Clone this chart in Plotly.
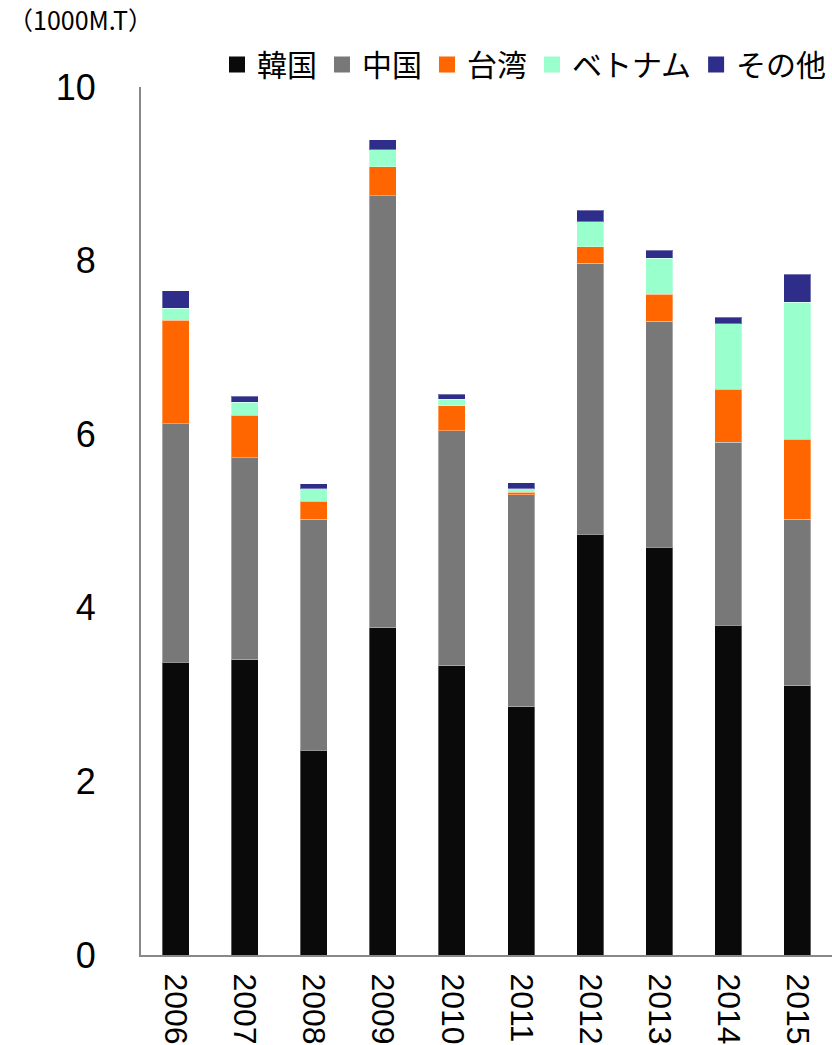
import plotly.graph_objects as go

# Import volumes by origin (unit: 1000 metric tons)
years = ["2006", "2007", "2008", "2009", "2010", "2011", "2012", "2013", "2014", "2015"]
korea = [3.37, 3.40, 2.36, 3.77, 3.33, 2.86, 4.85, 4.70, 3.80, 3.10]
china = [2.75, 2.33, 2.66, 4.98, 2.71, 2.44, 3.12, 2.60, 2.11, 1.92]
taiwan = [1.19, 0.49, 0.21, 0.33, 0.29, 0.03, 0.19, 0.31, 0.61, 0.92]
vietnam = [0.14, 0.15, 0.14, 0.20, 0.07, 0.04, 0.29, 0.42, 0.75, 1.58]
others = [0.20, 0.07, 0.06, 0.11, 0.06, 0.07, 0.13, 0.09, 0.08, 0.32]

series = [
    ("韓国", korea, "#0a0a0a"),
    ("中国", china, "#787878"),
    ("台湾", taiwan, "#ff6600"),
    ("ベトナム", vietnam, "#99ffcc"),
    ("その他", others, "#2e2d8a"),
]

fig = go.Figure()
for name, vals, color in series:
    fig.add_trace(go.Bar(
        x=years, y=vals, name=name, showlegend=False, legendgroup=name,
        marker=dict(color=color, line=dict(color="rgba(255,255,255,0.35)", width=1)),
    ))
# Legend keys: larger square swatches than the default bar swatch
for name, vals, color in series:
    fig.add_trace(go.Scatter(
        x=[None], y=[None], mode="markers", name=name, legendgroup=name,
        marker=dict(symbol="square", size=16, color=color),
        hoverinfo="skip",
    ))

fig.update_layout(
    barmode="stack",
    bargap=0.61,
    width=832, height=1045,
    margin=dict(l=141, r=0, t=87, b=90),
    plot_bgcolor="white", paper_bgcolor="white",
    font=dict(family="Liberation Sans, Arial, sans-serif", color="black"),
    legend=dict(
        orientation="h",
        x=1.0, xanchor="right",
        y=1.026, yanchor="middle",
        font=dict(family="Noto Sans CJK JP", size=30, color="black"),
        itemwidth=30,
        tracegroupgap=15,
        traceorder="normal",
        bgcolor="rgba(0,0,0,0)",
    ),
    annotations=[dict(
        text="（1000M.T）",
        xref="paper", yref="paper",
        x=-0.195, y=1.078, xanchor="left", yanchor="middle",
        showarrow=False,
        font=dict(family="Noto Sans CJK JP", size=25, color="black"),
    )],
)

fig.update_yaxes(
    range=[0, 10], dtick=2, automargin=False,
    showgrid=False, zeroline=False,
    showline=True, linecolor="#888888", linewidth=2,
    ticks="", ticklabelstandoff=36,
    tickfont=dict(size=36, family="Liberation Sans, Arial, sans-serif"),
)
fig.update_xaxes(
    automargin=False,
    showgrid=False,
    showline=True, linecolor="#888888", linewidth=2,
    ticks="", tickangle=90, ticklabelstandoff=10,
    tickfont=dict(size=32, family="Liberation Sans Narrow, Liberation Sans, Arial, sans-serif"),
)

fig.write_html("out.html")
